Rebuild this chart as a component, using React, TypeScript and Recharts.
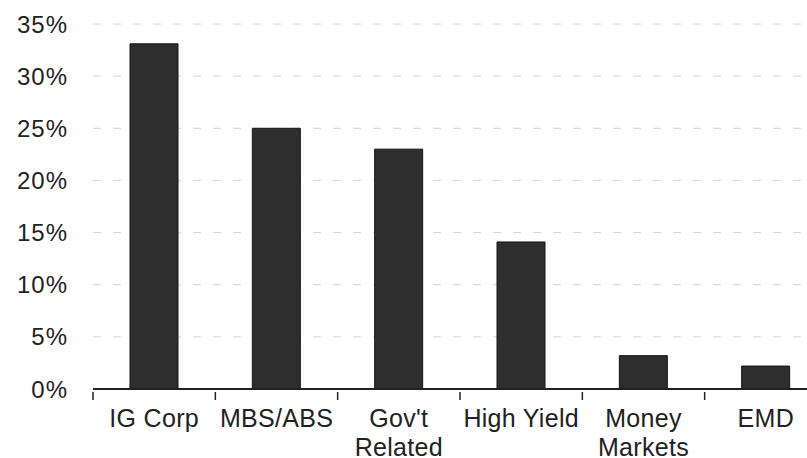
import { BarChart, Bar, XAxis, YAxis, CartesianGrid } from "recharts"

// Fixed income sector weights (percent)
const categories = ["IG Corp", "MBS/ABS", "Gov't Related", "High Yield", "Money Markets", "EMD"]
const weights = [33.1, 25, 23, 14.1, 3.2, 2.2]
const tickLabels = [["IG Corp"], ["MBS/ABS"], ["Gov't", "Related"], ["High Yield"], ["Money", "Markets"], ["EMD"]]
const yTicks = [0, 5, 10, 15, 20, 25, 30, 35]

const data = categories.map((name, i) => ({ name, value: weights[i] }))

const FONT = "'Liberation Sans', Arial, Helvetica, sans-serif"

function CategoryTick(props: any) {
  const { x, y, payload, index } = props
  const lines = tickLabels[index] ?? [payload.value]
  const half = payload.offset ?? 61
  return (
    <g>
      <line x1={x - half} x2={x - half} y1={y - 17} y2={y - 9} stroke="#222" strokeWidth={1.5} />
      <text x={x} y={y} textAnchor="middle" fill="#222" fontSize={25} fontFamily={FONT} style={{ letterSpacing: 0.3 }}>
        {lines.map((line: string, i: number) => (
          <tspan key={i} x={x} dy={i === 0 ? "0.71em" : 29}>
            {line}
          </tspan>
        ))}
      </text>
    </g>
  )
}

export default function App() {
  return (
    <div style={{ position: "absolute", left: 0, top: 0, width: 807, height: 458, overflow: "hidden", background: "#fff" }}>
      <BarChart width={827} height={458} data={data} margin={{ top: 24, right: 0, left: 0, bottom: 0 }} barCategoryGap={0}>
        <CartesianGrid vertical={false} stroke="#d4d4d4" strokeDasharray="8 12" />
        <YAxis
          width={93}
          domain={[0, 35]}
          ticks={yTicks}
          tickFormatter={(v) => `${v}%`}
          axisLine={false}
          tickLine={false}
          tickMargin={19}
          tick={{ fill: "#222", fontSize: 24, fontFamily: FONT, style: { letterSpacing: 1 } }}
        />
        <XAxis
          dataKey="name"
          height={69}
          interval={0}
          axisLine={{ stroke: "#222", strokeWidth: 2 }}
          tickLine={false}
          tickMargin={14}
          tick={<CategoryTick />}
        />
        <Bar dataKey="value" fill="#2e2e2e" stroke="#151515" strokeWidth={1} barSize={48} isAnimationActive={false} />
      </BarChart>
    </div>
  )
}
